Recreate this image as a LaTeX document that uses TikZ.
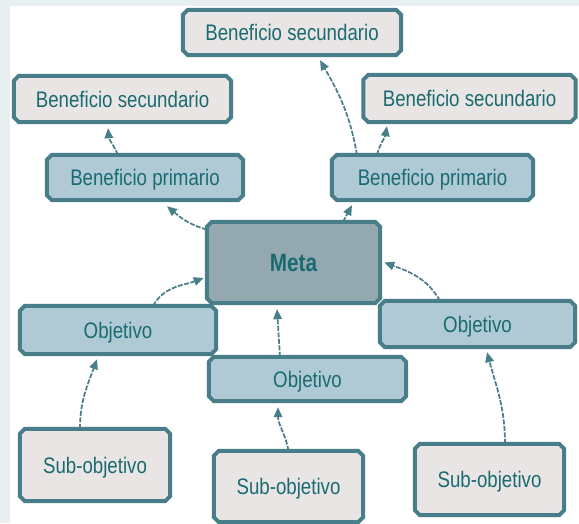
\documentclass[tikz,border=0pt]{standalone}
\usepackage{fontspec}
\setmainfont{Liberation Sans}[FakeStretch=0.83]
\usetikzlibrary{arrows.meta,backgrounds}
\definecolor{edge}{HTML}{487E89}
\definecolor{txt}{HTML}{1A6B71}
\definecolor{gfill}{HTML}{E9E5E4}
\definecolor{bfill}{HTML}{AFCAD5}
\definecolor{mfill}{HTML}{93A8AF}
\definecolor{bgstrip}{HTML}{E7EFF1}
\newcommand\chbox[2]{%
  \filldraw[boxline, fill=#2]
    ([xshift=5pt]#1.north west) -- ([xshift=-5pt]#1.north east) --
    ([yshift=-5pt]#1.north east) -- ([yshift=5pt]#1.south east) --
    ([xshift=-5pt]#1.south east) -- ([xshift=5pt]#1.south west) --
    ([yshift=5pt]#1.south west) -- ([yshift=-5pt]#1.north west) -- cycle;}
\tikzset{
  box/.style={rectangle, inner sep=0pt, text=txt, text height=16pt, text depth=0pt,
    font=\fontsize{22.5pt}{27pt}\selectfont},
  boxline/.style={draw=edge, line width=4pt, line join=miter},
  link/.style={draw=edge, line width=1.7pt, dash pattern=on 5pt off 1.5pt,
    -{Triangle[length=10pt,width=8.5pt]}},
}
\begin{document}
\begin{tikzpicture}[x=1pt,y=-1pt]
\useasboundingbox (0,0) rectangle (579,523);
% nodes
\node[box, minimum width=218pt, minimum height=45pt] (bs1) at (292,32.5) {Beneficio secundario};
\node[box, minimum width=217pt, minimum height=46pt] (bs2) at (122.5,99) {Beneficio secundario};
\node[box, minimum width=212pt, minimum height=47pt] (bs3) at (469.5,98.5) {Beneficio secundario};
\node[box, minimum width=196pt, minimum height=45pt] (bp1) at (145,177.5) {Beneficio primario};
\node[box, minimum width=201pt, minimum height=45pt] (bp2) at (432.5,177.5) {Beneficio primario};
\node[box, minimum width=173pt, minimum height=81pt, text height=18pt, font=\fontsize{25pt}{30pt}\selectfont\bfseries] (meta) at (293.5,262.5) {Meta};
\node[box, minimum width=196pt, minimum height=48pt] (obj1) at (118,330) {Objetivo};
\node[box, minimum width=197pt, minimum height=44pt] (obj2) at (307.5,379) {Objetivo};
\node[box, minimum width=195pt, minimum height=46pt] (obj3) at (477.5,324) {Objetivo};
\node[box, minimum width=150pt, minimum height=72pt] (sub1) at (95,465) {Sub-objetivo};
\node[box, minimum width=149pt, minimum height=71pt] (sub2) at (288.5,486.5) {Sub-objetivo};
\node[box, minimum width=149pt, minimum height=71pt] (sub3) at (489.5,479.5) {Sub-objetivo};
% background and boxes
\begin{scope}[on background layer]
  \fill[white] (0,0) rectangle (579,523);
  \fill[bgstrip] (0,0) rectangle (10,523);
  \fill[bgstrip] (0,0) rectangle (579,5.5);
  \chbox{bs1}{gfill}
  \chbox{bs2}{gfill}
  \chbox{bs3}{gfill}
  \chbox{bp1}{bfill}
  \chbox{bp2}{bfill}
  \chbox{meta}{mfill}
  \chbox{obj1}{bfill}
  \chbox{obj2}{bfill}
  \chbox{obj3}{bfill}
  \chbox{sub1}{gfill}
  \chbox{sub2}{gfill}
  \chbox{sub3}{gfill}
\end{scope}
% connectors
\draw[link] ([xshift=-27pt]bp1.north) to[out=115,in=-85] ([xshift=-14.5pt,yshift=-6pt]bs2.south);
\draw[link] ([yshift=33pt]meta.west) to[out=165,in=-40] ([xshift=22pt,yshift=-6pt]bp1.south);
\draw[link] ([xshift=-75.5pt]bp2.north) to[out=100,in=-60] ([xshift=28pt,yshift=-5pt]bs1.south);
\draw[link] ([xshift=-55.5pt]bp2.north) to[out=75,in=-100] ([xshift=-82.5pt,yshift=-4pt]bs3.south);
\draw[link] ([xshift=49.5pt]meta.north) -- ([xshift=-80.5pt,yshift=-5pt]bp2.south);
\draw[link] ([xshift=35pt]obj1.north) to[out=60,in=200] ([xshift=-3pt,yshift=-15.5pt]meta.west);
\draw[link] ([xshift=-27.5pt]obj2.north) -- ([xshift=-16.5pt,yshift=-6pt]meta.south);
\draw[link] ([xshift=-37.5pt]obj3.north) to[out=120,in=-20] ([xshift=4pt]meta.east);
\draw[link] ([xshift=-15pt]sub1.north) to[out=90,in=-110] ([xshift=-21pt,yshift=-5pt]obj1.south);
\draw[link] ([xshift=0pt]sub2.north) to[out=100,in=-90] ([xshift=-29.5pt,yshift=-6pt]obj2.south);
\draw[link] ([xshift=15.5pt]sub3.north) to[out=90,in=-75] ([xshift=9.5pt,yshift=-5pt]obj3.south);
\end{tikzpicture}
\end{document}
